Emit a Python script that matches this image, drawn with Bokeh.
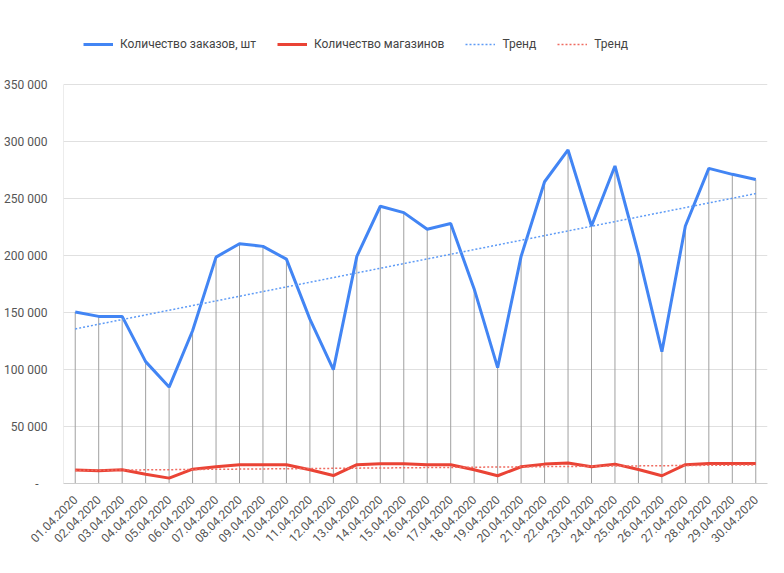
import numpy as np
from bokeh.plotting import figure
from bokeh.models import Range1d, FixedTicker, Legend, LegendItem, ColumnDataSource
from bokeh.embed import file_html
from bokeh.resources import INLINE

dates = ["01.04.2020", "02.04.2020", "03.04.2020", "04.04.2020", "05.04.2020",
         "06.04.2020", "07.04.2020", "08.04.2020", "09.04.2020", "10.04.2020",
         "11.04.2020", "12.04.2020", "13.04.2020", "14.04.2020", "15.04.2020",
         "16.04.2020", "17.04.2020", "18.04.2020", "19.04.2020", "20.04.2020",
         "21.04.2020", "22.04.2020", "23.04.2020", "24.04.2020", "25.04.2020",
         "26.04.2020", "27.04.2020", "28.04.2020", "29.04.2020", "30.04.2020"]

orders = [150500, 146600, 146600, 106900, 84600, 134000, 198600, 210300, 208000, 196800,
          144200, 99900, 199200, 243200, 237600, 223000, 228000, 170700, 101600, 199200,
          264700, 292600, 225900, 278500, 201500, 115700, 225900, 276400, 271200, 266700]

stores = [11750, 11200, 12000, 8200, 4700, 12600, 14700, 16500, 16500, 16500,
          12000, 7000, 16500, 17300, 17300, 16500, 16500, 12000, 6800, 14700,
          17000, 17900, 14700, 17000, 12300, 6800, 16500, 17600, 17600, 17600]

y_ticks = [0, 50000, 100000, 150000, 200000, 250000, 300000, 350000]
y_labels = ["-\u00a0\u00a0\u00a0", "50 000", "100 000", "150 000", "200 000",
            "250 000", "300 000", "350 000"]

series_names = ["Количество заказов, шт", "Количество магазинов", "Тренд", "Тренд"]

FONT = "Roboto"
BLUE = "#4285f4"
RED = "#ea4335"

W, H = 784, 573
FRAME_BOTTOM = 90          # px below the plot area
AXIS_TOP_PX = 84           # px from top where 350 000 sits
frame_h = H - FRAME_BOTTOM
y_top = y_ticks[-1] * frame_h / (frame_h - AXIS_TOP_PX)

idx = np.arange(len(dates))
# linear trend lines (least squares, like the spreadsheet trendline)
trend_o = np.polyval(np.polyfit(idx, orders, 1), idx)
trend_s = np.polyval(np.polyfit(idx, stores, 1), idx)

src = ColumnDataSource(dict(x=idx, orders=orders, stores=stores,
                            trend_o=trend_o, trend_s=trend_s,
                            zero=[0] * len(idx)))

x0, x1 = -0.5, len(dates) - 0.5
p = figure(width=W, height=H, output_backend="svg", toolbar_location=None,
           x_range=Range1d(x0, x1), y_range=Range1d(0, y_top),
           min_border_left=63, min_border_right=17, min_border_top=0,
           min_border_bottom=FRAME_BOTTOM)
p.outline_line_color = None
p.background_fill_color = "white"

# axes
p.yaxis.ticker = FixedTicker(ticks=y_ticks)
p.yaxis.major_label_overrides = {t: l for t, l in zip(y_ticks, y_labels)}
p.yaxis.major_tick_line_color = None
p.yaxis.minor_tick_line_color = None
p.yaxis.axis_line_color = None
p.yaxis.major_label_standoff = 10
p.yaxis.major_label_text_font = FONT
p.yaxis.major_label_text_font_size = "12px"
p.yaxis.major_label_text_color = "#555555"

p.xaxis.ticker = FixedTicker(ticks=list(idx))
p.xaxis.major_label_overrides = {int(i): d for i, d in zip(idx, dates)}
p.xaxis.major_label_orientation = np.pi / 4
p.xaxis.major_tick_line_color = None
p.xaxis.minor_tick_line_color = None
p.xaxis.axis_line_color = "#cccccc"
p.xaxis.major_label_standoff = 8
p.xaxis.major_label_text_font = FONT
p.xaxis.major_label_text_font_size = "12px"
p.xaxis.major_label_text_color = "#555555"

p.xgrid.grid_line_color = None
p.ygrid.ticker = FixedTicker(ticks=y_ticks)
p.ygrid.grid_line_color = "#e0e0e0"

# left axis line, only up to the top tick
p.segment(x0=[x0], y0=[0], x1=[x0], y1=[y_ticks[-1]], line_color="#d9d9d9",
          line_width=1)

# drop lines
p.segment(x0="x", y0="zero", x1="x", y1="orders", source=src,
          line_color="#a0a0a0", line_width=1)

r_o = p.line("x", "orders", source=src, line_color=BLUE, line_width=3)
r_s = p.line("x", "stores", source=src, line_color=RED, line_width=3)
r_to = p.line("x", "trend_o", source=src, line_color="#5e9bf6", line_width=1.5,
              line_dash="2 2")
r_ts = p.line("x", "trend_s", source=src, line_color="#ef6b60", line_width=1.5,
              line_dash="2 2")

legend = Legend(items=[LegendItem(label=series_names[0], renderers=[r_o]),
                       LegendItem(label=series_names[1], renderers=[r_s]),
                       LegendItem(label=series_names[2], renderers=[r_to]),
                       LegendItem(label=series_names[3], renderers=[r_ts])],
                orientation="horizontal", location=(20, 429),
                padding=0, margin=0, spacing=21, label_standoff=7,
                glyph_width=30, glyph_height=20, label_height=20,
                label_text_font=FONT, label_text_font_size="12px",
                label_text_color="#444444",
                background_fill_alpha=0, border_line_color=None)
p.add_layout(legend, "center")

open("out.html", "w").write(file_html(p, INLINE))
